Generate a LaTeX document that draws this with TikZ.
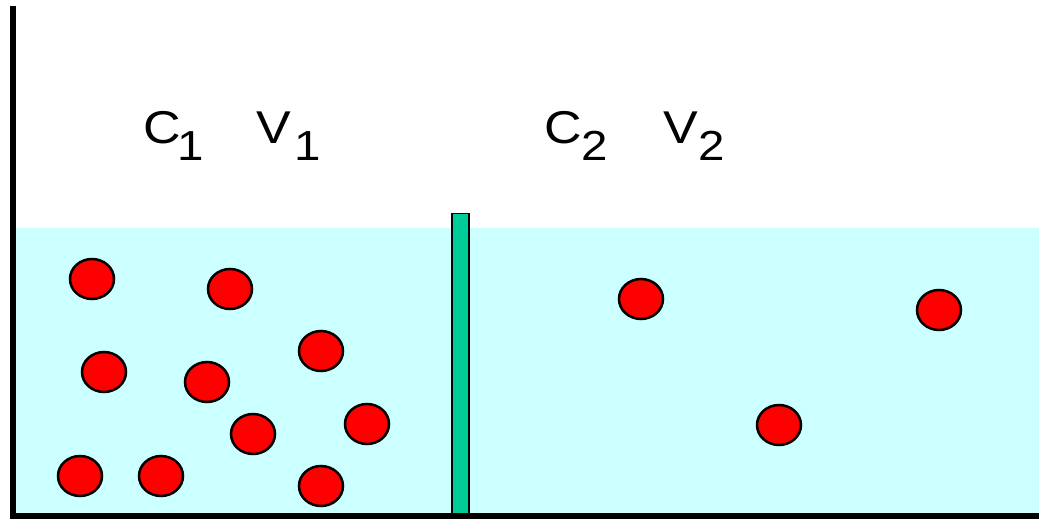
\documentclass[tikz,border=0pt]{standalone}
\usepackage{fontspec}
\setmainfont{Liberation Sans}
\newfontfamily\lblfont[FakeStretch=1.13]{Liberation Sans}
\usetikzlibrary{shapes.geometric}
\definecolor{water}{RGB}{204,255,255}
\definecolor{wall}{RGB}{0,204,153}
\tikzset{
  ball/.style={ellipse, draw=black, fill=red, line width=2.5pt, minimum width=44pt, minimum height=40pt, inner sep=0pt},
  lbl/.style={anchor=base west, inner sep=0pt, font=\lblfont\fontsize{46}{46}\selectfont},
}
\newcommand{\sbs}[2]{\kern#1pt\raisebox{-16.5pt}{\fontsize{42}{42}\selectfont #2}}
\begin{document}
\begin{tikzpicture}[x=1pt,y=-1pt]
\useasboundingbox (0,0) rectangle (1039,519);
\fill[water] (16,228) rectangle (1039,513);
\draw[fill=wall, line width=1.5pt] (452,213.5) rectangle (469,516);
% balls left
\node[ball] (b1) at (92,279) {};
\node[ball] (b2) at (230,289) {};
\node[ball] (b3) at (321,351) {};
\node[ball] (b4) at (104,372) {};
\node[ball] (b5) at (207,382) {};
\node[ball] (b6) at (253,434) {};
\node[ball] (b7) at (367,424) {};
\node[ball] (b8) at (80,476) {};
\node[ball] (b9) at (161,476) {};
\node[ball] (b10) at (321,486) {};
% balls right
\node[ball] (b11) at (641,299) {};
\node[ball] (b12) at (939,310) {};
\node[ball] (b13) at (779,425) {};
% labels
\node[lbl] (c1) at (143.5,143.5) {C\sbs{-4}{1}};
\node[lbl] (v1) at (256.5,143.5) {V\sbs{3}{1}};
\node[lbl] (c2) at (544.5,143.5) {C\sbs{-1}{2}};
\node[lbl] (v2) at (663.5,143.5) {V\sbs{0}{2}};
% axes
\draw[line width=6pt] (13,6) -- (13,516) -- (1039,516);
\end{tikzpicture}
\end{document}
